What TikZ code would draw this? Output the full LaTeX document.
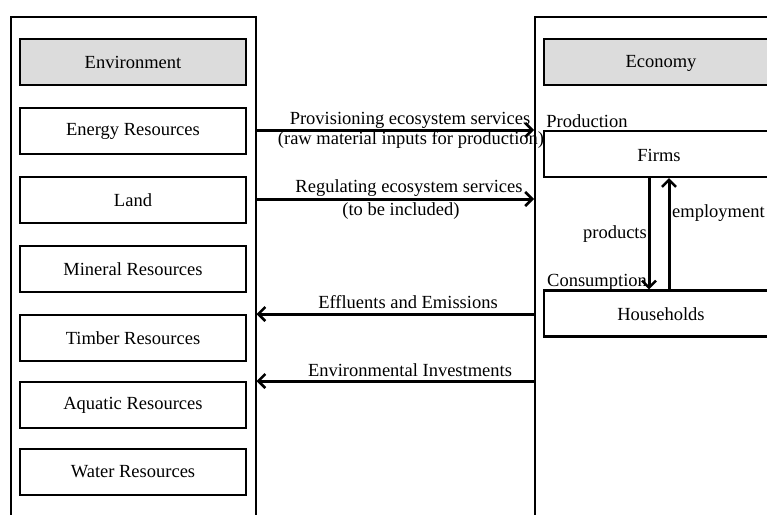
\documentclass[tikz,border=0pt]{standalone}
\usepackage{fontspec}
\setmainfont{Liberation Serif}
\usetikzlibrary{arrows.meta}
\definecolor{headgray}{HTML}{DCDCDC}
\begin{document}
\begin{tikzpicture}[x=1pt,y=-1pt,
  every node/.style={font=\fontsize{18.5}{22}\selectfont},
  panel/.style={draw, line width=1.5pt, inner sep=0pt, anchor=north west},
  resbox/.style={draw, line width=2.2pt, minimum width=226pt, minimum height=46pt, inner sep=0pt},
  headbox/.style={resbox, fill=headgray},
  econbox/.style={draw, line width=2.2pt, minimum width=234pt, minimum height=46pt, inner sep=0pt, anchor=west},
  flow/.style={line width=3pt, -{Straight Barb[length=7pt,width=14pt,line width=2.5pt]}},
  lbl/.style={inner sep=0pt}
]
\clip (0,0) rectangle (767,514);
\fill[white] (0,0) rectangle (767,514);
% panels (open at the bottom, cut by the picture edge)
\node[panel, minimum width=245pt, minimum height=530pt] (envpanel) at (10,16) {};
\node[panel, minimum width=270pt, minimum height=530pt] (econpanel) at (534,16) {};
% environment column
\node[headbox] (env) at (133,62) {Environment};
\node[resbox] (energy) at (133,131) {Energy Resources};
\node[resbox] (land) at (133,200) {Land};
\node[resbox] (mineral) at (133,269) {Mineral Resources};
\node[resbox] (timber) at (133,338) {Timber Resources};
\node[resbox] (aquatic) at (133,405) {Aquatic Resources};
\node[resbox] (water) at (133,472) {Water Resources};
% economy column
\node[econbox, fill=headgray] (econ) at (543,62) {\hspace*{0pt}};
\node at (661,63.5) (econtxt) {Economy};
\node[econbox] (firms) at (543,154) {};
\node at (659,155) (firmstxt) {Firms};
\node[econbox] (house) at (543,313.5) {};
\node at (661,314.5) (housetxt) {Households};
\node[lbl] (prodlbl) at (587,121) {Production};
\node[lbl, anchor=west] (conslbl) at (547,282) {Consumption};
% horizontal flows
\coordinate (yprov) at (0,130);
\coordinate (yreg) at (0,199);
\coordinate (yeff) at (0,314);
\coordinate (yinv) at (0,381);
\draw[flow] (envpanel.east |- yprov) -- (econpanel.west |- yprov);
\draw[flow] (envpanel.east |- yreg) -- (econpanel.west |- yreg);
\draw[flow] (econpanel.west |- yeff) -- (envpanel.east |- yeff);
\draw[flow] (econpanel.west |- yinv) -- (envpanel.east |- yinv);
\node[lbl] (provlbl) at (410,120) {Provisioning ecosystem services};
\node[lbl] (provlbl2) at (411,140) {(raw material inputs for production)};
\node[lbl] (reglbl) at (409,188) {Regulating ecosystem services};
\node[lbl] (reglbl2) at (401,211) {(to be included)};
\node[lbl] (efflbl) at (408,302) {Effluents and Emissions};
\node[lbl] (invlbl) at (410,370) {Environmental Investments};
% vertical flows
\coordinate (xprod) at (649,0);
\coordinate (xemp) at (669,0);
\draw[flow] (firms.south -| xprod) -- (house.north -| xprod);
\draw[flow] (house.north -| xemp) -- (firms.south -| xemp);
\node[lbl, anchor=east] (prodflow) at (647,234) {products};
\node[lbl, anchor=west] (empflow) at (672,213) {employment};
\end{tikzpicture}
\end{document}
